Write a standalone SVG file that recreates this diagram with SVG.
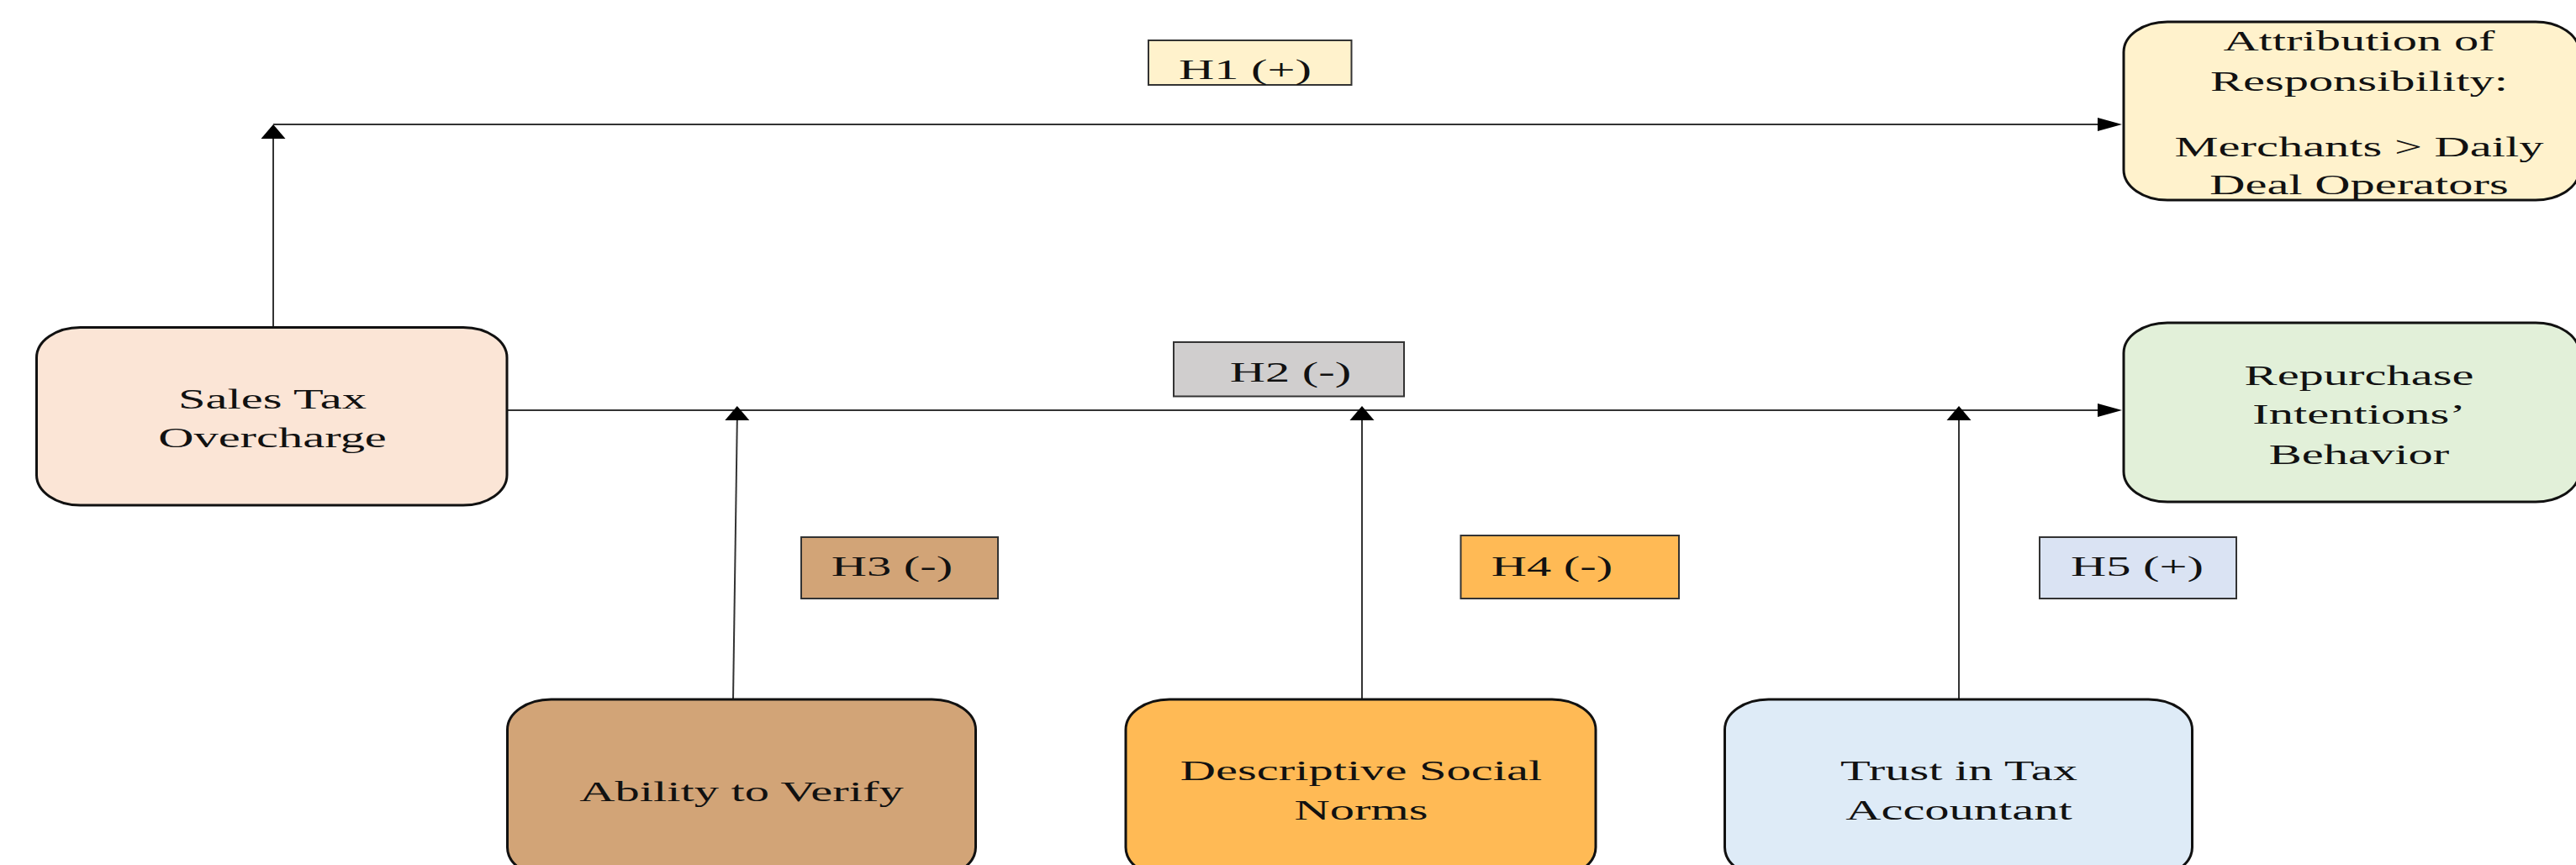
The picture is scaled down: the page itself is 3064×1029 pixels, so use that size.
<svg xmlns="http://www.w3.org/2000/svg" width="3064" height="1029" viewBox="0 0 3064 1029">
<style>
  .node rect { stroke: #111; stroke-width: 3; }
  .lbl rect { stroke: #333; stroke-width: 2; }
  text { font-family: "Liberation Serif", "Times New Roman", serif; font-size: 34px; fill: #111; text-anchor: middle; }
  .conn { stroke: #333; stroke-width: 2; fill: none; }
</style>
<defs>
  <marker id="ar" markerUnits="userSpaceOnUse" markerWidth="30" markerHeight="18" refX="0" refY="8" orient="0" overflow="visible">
    <path d="M0,0 L29,8 L0,16 Z" fill="#000"/>
  </marker>
  <marker id="au" markerUnits="userSpaceOnUse" markerWidth="30" markerHeight="18" refX="14.5" refY="17" orient="0" overflow="visible">
    <path d="M0,17 L14.5,0 L29,17 Z" fill="#000"/>
  </marker>
</defs>
<rect width="3064" height="1029" fill="#fff"/>

<g id="connectors">
  <path class="conn" d="M325,389 V165" marker-end="url(#au)"/>
  <path class="conn" d="M325,148 H2495" marker-end="url(#ar)"/>
  <path class="conn" d="M603,488 H2495" marker-end="url(#ar)"/>
  <path class="conn" d="M872,832 L876.8,500" marker-end="url(#au)"/>
  <path class="conn" d="M1620,832 V500" marker-end="url(#au)"/>
  <path class="conn" d="M2330,832 V500" marker-end="url(#au)"/>
</g>

<g id="sales-tax" class="node">
  <rect x="43.5" y="389.5" width="559.5" height="211.5" rx="52" ry="36" fill="#FBE5D6"/>
  <text transform="translate(324,485.5) scale(1.72,1)">Sales Tax</text>
  <text transform="translate(324,532) scale(1.72,1)">Overcharge</text>
</g>

<g id="attribution" class="node">
  <rect x="2526" y="26" width="542" height="212" rx="52" ry="36" fill="#FFF2CC"/>
  <text transform="translate(2806,60) scale(1.72,1)">Attribution of</text>
  <text transform="translate(2806,107.5) scale(1.72,1)">Responsibility:</text>
  <text transform="translate(2806,186) scale(1.72,1)">Merchants &gt; Daily</text>
  <text transform="translate(2806,231) scale(1.72,1)">Deal Operators</text>
</g>

<g id="repurchase" class="node">
  <rect x="2526" y="384" width="542" height="213" rx="52" ry="36" fill="#E2F0D9"/>
  <text transform="translate(2806,457.5) scale(1.72,1)">Repurchase</text>
  <text transform="translate(2806,504) scale(1.72,1)">Intentions’</text>
  <text transform="translate(2806,551.5) scale(1.72,1)">Behavior</text>
</g>

<g id="ability" class="node">
  <rect x="603.5" y="832" width="557" height="212" rx="52" ry="36" fill="#D2A477"/>
  <text transform="translate(882,953) scale(1.72,1)">Ability to Verify</text>
</g>

<g id="descriptive" class="node">
  <rect x="1339" y="832" width="559" height="212" rx="52" ry="36" fill="#FFBA55"/>
  <text transform="translate(1619,928) scale(1.72,1)">Descriptive Social</text>
  <text transform="translate(1619,975) scale(1.72,1)">Norms</text>
</g>

<g id="trust" class="node">
  <rect x="2051.5" y="832" width="556" height="212" rx="52" ry="36" fill="#DEEBF7"/>
  <text transform="translate(2330,928) scale(1.72,1)">Trust in Tax</text>
  <text transform="translate(2330,975) scale(1.72,1)">Accountant</text>
</g>

<g id="h1" class="lbl">
  <rect x="1366" y="48" width="241.5" height="53" fill="#FFF2CC"/>
  <text transform="translate(1481,94) scale(1.72,1)">H1 (+)</text>
</g>
<g id="h2" class="lbl">
  <rect x="1396" y="407" width="274" height="64.5" fill="#D0CECE"/>
  <text transform="translate(1535,453.5) scale(1.72,1)">H2 (-)</text>
</g>
<g id="h3" class="lbl">
  <rect x="953" y="639" width="234" height="73" fill="#D2A477"/>
  <text transform="translate(1061,685) scale(1.72,1)">H3 (-)</text>
</g>
<g id="h4" class="lbl">
  <rect x="1737.5" y="637" width="259.5" height="75" fill="#FFBA55"/>
  <text transform="translate(1846,685) scale(1.72,1)">H4 (-)</text>
</g>
<g id="h5" class="lbl">
  <rect x="2426" y="639" width="234" height="73" fill="#DAE3F3"/>
  <text transform="translate(2542,685) scale(1.72,1)">H5 (+)</text>
</g>
</svg>
